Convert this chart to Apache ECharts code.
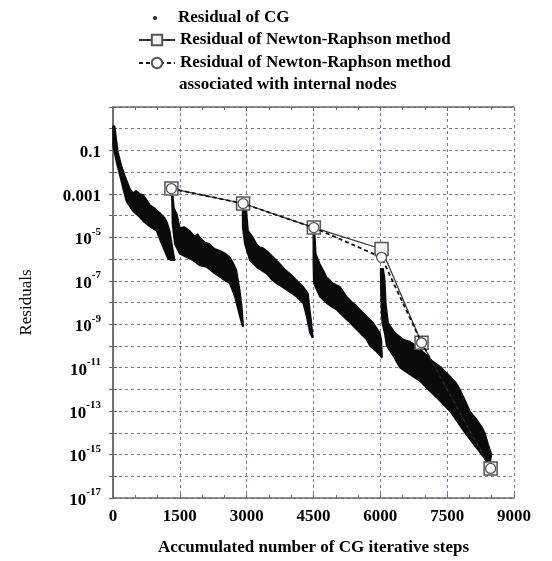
<!DOCTYPE html>
<html><head><meta charset="utf-8">
<script src="https://cdn.jsdelivr.net/npm/echarts/dist/echarts.min.js"></script>
<style>html,body{margin:0;padding:0;background:#fff}#c{width:552px;height:561px}</style>
</head><body><div id="c"></div>
<script>
// ---- Data ----
const xTicks = [0, 1500, 3000, 4500, 6000, 7500, 9000];

// CG residual band, per CG run: upper-right edge and lower-left edge [step, residual]
const cgSeg1Upper = [[0, 1.35], [38, 1.3], [112, 8.3e-2], [190, 2.0e-2], [263, 7.2e-3], [375, 1.8e-3], [450, 1.1e-3], [520, 1.4e-3], [600, 1.0e-3], [674, 9.1e-4], [750, 5.5e-4], [824, 3.16e-4], [930, 2.2e-4], [1049, 1.35e-4], [1161, 7.9e-5], [1220, 4.5e-5], [1273, 2.0e-5], [1347, 2.45e-6], [1386, 8.7e-7]];
const cgSeg1Lower = [[0, 1.35], [0, 1.66e-1], [76, 2.95e-2], [189, 3.6e-3], [240, 1.3e-3], [300, 4.6e-4], [449, 1.58e-4], [560, 1.0e-4], [674, 5.6e-5], [820, 3.2e-5], [974, 2.0e-5], [1050, 8.0e-6], [1123, 3.5e-6], [1235, 1.0e-6], [1311, 8.7e-7]];

const cgSeg2Upper = [[1345, 7.9e-4], [1370, 2.24e-4], [1437, 1.12e-4], [1498, 2.8e-5], [1600, 3.0e-5], [1722, 2.0e-5], [1830, 1.1e-5], [1900, 1.4e-5], [1947, 9.8e-6], [2060, 6.0e-6], [2172, 4.9e-6], [2280, 3.0e-6], [2397, 2.45e-6], [2520, 1.8e-6], [2621, 1.23e-6], [2700, 6.5e-7], [2771, 3.0e-7], [2845, 3.8e-8], [2890, 6.6e-9], [2925, 8.1e-10]];
const cgSeg2Lower = [[1320, 7.9e-4], [1334, 3.98e-5], [1386, 4.9e-6], [1498, 1.74e-6], [1650, 1.2e-6], [1797, 8.7e-7], [1950, 5.0e-7], [2097, 4.3e-7], [2250, 2.4e-7], [2396, 1.5e-7], [2520, 1.0e-7], [2621, 7.6e-8], [2733, 1.86e-8], [2845, 2.3e-9], [2906, 8.1e-10]];

const cgSeg3Upper = [[2930, 3.16e-4], [2996, 1.58e-4], [3032, 2.0e-5], [3144, 9.8e-6], [3220, 5.0e-6], [3294, 3.5e-6], [3370, 3.2e-6], [3445, 2.45e-6], [3593, 1.23e-6], [3660, 9.0e-7], [3744, 6.0e-7], [3850, 3.5e-7], [3968, 2.14e-7], [4040, 1.6e-7], [4118, 1.07e-7], [4267, 5.4e-8], [4379, 2.6e-8], [4417, 4.7e-9], [4455, 1.15e-9], [4485, 2.5e-10]];
const cgSeg3Lower = [[2905, 3.16e-4], [2910, 2.8e-5], [2958, 4.9e-6], [3070, 8.7e-7], [3220, 4.3e-7], [3330, 3.0e-7], [3445, 2.14e-7], [3550, 1.2e-7], [3669, 7.6e-8], [3780, 5.5e-8], [3894, 3.8e-8], [4118, 1.86e-8], [4267, 9.3e-9], [4343, 2.3e-9], [4417, 4.1e-10], [4470, 2.5e-10]];

const cgSeg4Upper = [[4525, 2.0e-5], [4552, 1.74e-6], [4642, 6.0e-7], [4720, 3.0e-7], [4792, 1.5e-7], [4941, 7.6e-8], [5091, 5.4e-8], [5170, 3.2e-8], [5241, 1.86e-8], [5390, 9.3e-9], [5470, 7.0e-9], [5540, 4.7e-9], [5690, 2.3e-9], [5760, 1.7e-9], [5839, 1.15e-9], [5989, 4.1e-10], [6027, 1.7e-10], [6040, 3.16e-11]];
const cgSeg4Lower = [[4495, 2.0e-5], [4495, 6.0e-7], [4505, 7.6e-8], [4642, 1.86e-8], [4792, 9.3e-9], [4900, 6.5e-9], [5017, 4.7e-9], [5241, 1.66e-9], [5350, 1.0e-9], [5466, 5.8e-10], [5690, 2.0e-10], [5764, 1.0e-10], [5914, 5.4e-11], [6027, 2.9e-11]];

const cgSeg5Upper = [[6063, 3.6e-7], [6101, 1.07e-7], [6124, 9.3e-9], [6176, 1.15e-9], [6326, 4.1e-10], [6513, 2.0e-10], [6660, 1.6e-10], [6813, 1.0e-10], [7000, 4.5e-11], [7150, 2.2e-11], [7375, 1.0e-11], [7560, 4.0e-12], [7700, 2.0e-12], [7786, 1.0e-12], [7900, 3.2e-13], [8010, 1.0e-13], [8150, 4.5e-14], [8280, 1.8e-14], [8347, 1.0e-14], [8420, 3.0e-15], [8497, 1.0e-15], [8470, 5.0e-16]];
const cgSeg5Lower = [[6004, 3.6e-7], [6018, 9.3e-9], [6041, 1.15e-9], [6100, 3.5e-10], [6140, 1.0e-10], [6300, 3.2e-11], [6438, 1.0e-11], [6650, 5.0e-12], [6880, 2.5e-12], [7074, 1.0e-12], [7300, 3.5e-13], [7561, 1.0e-13], [7740, 3.0e-14], [7898, 1.0e-14], [8080, 3.2e-15], [8272, 1.0e-15], [8400, 4.5e-16], [8455, 3.0e-16]];

// Newton-Raphson residuals at the accumulated CG step counts
const nrSteps = [1311, 2919, 4507, 6027, 6925, 8475];
const nrResidual = [1.75e-3, 3.6e-4, 2.8e-5, 2.9e-6, 1.4e-10, 2.3e-16];
const nrInternalResidual = [1.75e-3, 3.6e-4, 2.8e-5, 1.2e-6, 1.4e-10, 2.3e-16];

const legendNames = ['Residual of CG', 'Residual of Newton-Raphson method', 'Residual of Newton-Raphson method'];
const legendSecondLine = 'associated with internal nodes';
const xName = 'Accumulated number of CG iterative steps';
const yName = 'Residuals';

// ---- Chart ----
const cgSegments = [
  {upper: cgSeg1Upper, lower: cgSeg1Lower},
  {upper: cgSeg2Upper, lower: cgSeg2Lower},
  {upper: cgSeg3Upper, lower: cgSeg3Lower},
  {upper: cgSeg4Upper, lower: cgSeg4Lower},
  {upper: cgSeg5Upper, lower: cgSeg5Lower}
];
const FONT = 'Liberation Serif';
const gridColor = '#7474c8';
const axisColor = '#6a6a6a';

const chart = echarts.init(document.getElementById('c'));
const baseX = {
  type: 'value', min: xTicks[0], max: xTicks[xTicks.length - 1], interval: 1500,
  axisLine: {show: true, lineStyle: {color: axisColor, width: 1.5}},
  axisTick: {show: true, inside: true, length: 4, lineStyle: {color: axisColor}},
  minorTick: {show: true, splitNumber: 3, length: 3, lineStyle: {color: axisColor}}
};
const baseY = {
  type: 'log', logBase: 10, min: 1e-17, max: 10, interval: 1,
  axisLine: {show: true, lineStyle: {color: axisColor, width: 1.5}},
  axisTick: {show: true, inside: true, length: 4, lineStyle: {color: axisColor}}
};

chart.setOption({
  animation: false,
  backgroundColor: '#fff',
  grid: {left: 113, right: 38, top: 107, bottom: 57},
  legend: [
    {
      data: [{name: legendNames[0], icon: 'circle', itemStyle: {color: '#222'}}],
      left: 153, top: 7, padding: 0, itemWidth: 4, itemHeight: 4, selectedMode: false,
      textStyle: {fontFamily: FONT, fontWeight: 'bold', fontSize: 17, color: '#000', lineHeight: 22, padding: [0, 0, 0, 16]}
    },
    {
      data: [legendNames[1], legendNames[2] + ' ' + legendSecondLine],
      formatter: function (n) { return n.indexOf(legendSecondLine) >= 0 ? legendNames[2] : n; },
      orient: 'vertical', left: 138, top: 29, padding: 0, itemWidth: 36, itemHeight: 13, itemGap: 1, selectedMode: false,
      textStyle: {fontFamily: FONT, fontWeight: 'bold', fontSize: 17, color: '#000', lineHeight: 22}
    }
  ],
  graphic: [{
    type: 'text', left: 179, top: 76,
    style: {text: legendSecondLine, font: 'bold 17px "Liberation Serif"', fill: '#000'}
  }],
  xAxis: [
    Object.assign({}, baseX, {
      position: 'bottom',
      name: xName, nameLocation: 'middle', nameGap: 41,
      nameTextStyle: {fontFamily: FONT, fontWeight: 'bold', fontSize: 17, color: '#000'},
      axisLabel: {fontFamily: FONT, fontWeight: 'bold', fontSize: 17, color: '#000', margin: 10,
        formatter: function (v) { return String(v); }},
      splitLine: {show: true, lineStyle: {color: gridColor, type: [3, 3], width: 1}}
    }),
    Object.assign({}, baseX, {position: 'top', axisLabel: {show: false}, splitLine: {show: false}})
  ],
  yAxis: [
    Object.assign({}, baseY, {
      position: 'left',
      name: yName, nameLocation: 'middle', nameGap: 78, nameRotate: 90,
      nameTextStyle: {fontFamily: FONT, fontSize: 17, color: '#000'},
      axisLabel: {
        margin: 12,
        formatter: function (v) {
          const e = Math.round(Math.log10(v));
          if (e >= 0 || e % 2 === 0) return '';
          if (e === -1) return '{n|0.1}';
          if (e === -3) return '{n|0.001}';
          return '{n|10}{s|' + e + '}';
        },
        rich: {
          n: {fontFamily: FONT, fontWeight: 'bold', fontSize: 17, color: '#000', verticalAlign: 'bottom', lineHeight: 22},
          s: {fontFamily: FONT, fontWeight: 'bold', fontSize: 11, color: '#000', verticalAlign: 'top', lineHeight: 22}
        }
      },
      splitLine: {show: true, lineStyle: {color: gridColor, type: [3, 3], width: 1}}
    }),
    Object.assign({}, baseY, {position: 'right', axisLabel: {show: false}, splitLine: {show: false}})
  ],
  series: [
    {
      name: legendNames[0], type: 'custom', xAxisIndex: 0, yAxisIndex: 0, z: 2,
      data: cgSegments.map(s => s.upper[0]),
      encode: {x: 0, y: 1},
      renderItem: function (params, api) {
        const seg = cgSegments[params.dataIndex];
        const pts = seg.upper.concat(seg.lower.slice().reverse()).map(p => api.coord(p));
        return {type: 'polygon', shape: {points: pts}, style: {fill: '#0a0a0a', stroke: '#0a0a0a', lineWidth: 1.5, lineJoin: 'round'}};
      }
    },
    {
      name: legendNames[1], type: 'line', z: 3,
      data: nrSteps.map((s, i) => [s, nrResidual[i]]),
      symbol: 'rect', symbolSize: 13, showAllSymbol: true,
      lineStyle: {color: '#333', width: 1.2, type: 'solid'},
      itemStyle: {color: '#f2f2f2', borderColor: '#555', borderWidth: 1.5}
    },
    {
      name: legendNames[2] + ' ' + legendSecondLine, type: 'line', z: 4,
      data: nrSteps.map((s, i) => [s, nrInternalResidual[i]]),
      symbol: 'circle', symbolSize: 10, showAllSymbol: true,
      lineStyle: {color: '#111', width: 1.8, type: [4, 3]},
      itemStyle: {color: '#fff', borderColor: '#555', borderWidth: 1.3}
    }
  ]
});
</script></body></html>
